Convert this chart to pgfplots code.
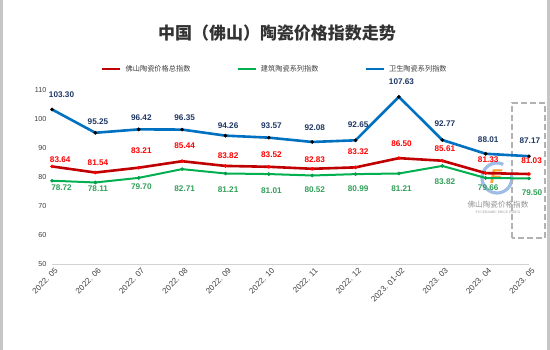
\documentclass[border=0pt]{standalone}
\usepackage{pgfplots}
\pgfplotsset{compat=1.18}
\usepackage{pgfplotstable}
\usepackage{fontspec}
\setmainfont{Liberation Sans}
\newfontfamily\cjk{Noto Sans CJK SC}
\newfontfamily\serifen{Liberation Serif}
\definecolor{cBlue}{HTML}{0070C0}
\definecolor{cRed}{HTML}{C00000}
\definecolor{cGreen}{HTML}{00B050}
\definecolor{lBlue}{HTML}{1F3864}
\definecolor{lRed}{HTML}{FF0000}
\definecolor{lGreen}{HTML}{33A05A}
\definecolor{tickc}{HTML}{404040}

\pgfplotstableread{
x y lx ly lab
0 83.64 0.19 85.86 83.64
1 81.54 1.06 84.83 81.54
2 83.21 2.06 88.97 83.21
3 85.44 3.06 90.69 85.44
4 83.82 4.06 87.24 83.82
5 83.52 5.06 87.59 83.52
6 82.83 6.06 85.86 82.83
7 83.32 7.06 88.62 83.32
8 86.50 8.06 91.38 86.50
9 85.61 9.06 89.66 85.61
10 81.33 10.06 85.86 81.33
11 81.03 11.06 85.52 81.03
}\redtab

\pgfplotstableread{
x y lx ly lab
0 78.72 0.22 76.30 78.72
1 78.11 1.06 75.80 78.11
2 79.70 2.06 76.60 79.70
3 82.71 3.06 75.90 82.71
4 81.21 4.06 75.50 81.21
5 81.01 5.06 75.20 81.01
6 80.52 6.06 75.50 80.52
7 80.99 7.06 75.80 80.99
8 81.21 8.06 75.80 81.21
9 83.82 9.06 78.50 83.82
10 79.66 10.06 76.40 79.66
11 79.50 11.07 74.50 79.50
}\greentab

\pgfplotstableread{
x y lx ly lab
0 103.30 0.22 108.28 103.30
1 95.25 1.06 98.97 95.25
2 96.42 2.06 100.34 96.42
3 96.35 3.06 100.34 96.35
4 94.26 4.06 97.59 94.26
5 93.57 5.06 97.59 93.57
6 92.08 6.06 96.90 92.08
7 92.65 7.06 97.93 92.65
8 107.63 8.06 112.76 107.63
9 92.77 9.06 98.28 92.77
10 88.01 10.06 92.76 88.01
11 87.17 11.02 92.41 87.17
}\bluetab

\begin{document}
\begin{tikzpicture}[x=1pt,y=1pt]
\path[use as bounding box] (0,0) rectangle (550,350);
\fill[white] (0,0) rectangle (550,350);
% side frame bars
\fill[gray!45] (0,0) rectangle (3,350);
\fill[gray!45] (547,0) rectangle (550,350);
% title
\node[font=\cjk\bfseries\fontsize{17}{19}\selectfont, text=black!80] at (277,317) {中国（佛山）陶瓷价格指数走势};
% watermark logo
\draw[cyan!55!blue!45, line width=3.2pt, opacity=0.85] (497,172) ++(65:15) arc (65:375:15);
\node[font=\bfseries\itshape\fontsize{20}{20}\selectfont, text=orange!90, opacity=0.85] at (496,173) {F};
\node[font=\cjk\fontsize{7.6}{8}\selectfont, text=gray!85] at (498,145) {佛山陶瓷价格指数};
\node[font=\serifen\fontsize{3.6}{4}\selectfont, text=gray!85] at (498,138) {FS CERAMIC PRICE INDEX};
% dashed highlight box
\draw[gray!60, line width=1.8pt, dash pattern=on 6pt off 3pt] (512,112) rectangle (545,247);

\begin{axis}[
  at={(52pt,86pt)}, anchor=south west,
  width=477pt, height=174pt, scale only axis,
  xmin=0, xmax=11, ymin=50, ymax=110,
  xtick={0,...,11},
  xticklabels={2022. 05,2022. 06,2022. 07,2022. 08,2022. 09,2022. 10,2022. 11,2022. 12,2023. 01-02,2023. 03,2023. 04,2023. 05},
  ytick={50,60,...,110},
  major tick length=0pt,
  axis lines*=left,
  y axis line style={draw=none},
  x axis line style={-, draw=gray!35, line width=0.8pt},
  /pgf/number format/assume math mode=true,
  yticklabel style={font=\fontsize{7.2}{8}\selectfont, text=tickc, xshift=-2pt},
  xticklabel style={font=\fontsize{8}{9}\selectfont, text=tickc, rotate=45, anchor=east, xshift=2.5pt, yshift=-7pt},
  clip=false,
  legend columns=3,
  legend style={at={(0.1027,1.121)}, anchor=west, draw=none, fill=none, inner sep=0pt,
    font=\cjk\fontsize{7.2}{8}\selectfont, text=tickc,
    /tikz/every even column/.append style={column sep=44pt},
    /tikz/every odd column/.append style={column sep=2pt}},
  legend image code/.code={\draw[#1, line width=2.5pt, mark=none] (0pt,0pt) -- (18pt,0pt);},
]
\addplot[cRed, line width=2.6pt, mark=*, mark size=1.7pt, mark options={fill=lRed, draw=lRed, line width=0.3pt}] table[x=x,y=y] {\redtab};
\addlegendentry{佛山陶瓷价格总指数}
\addplot[cGreen, line width=2pt, mark=*, mark size=1.7pt, mark options={fill=cGreen!90!black, draw=cGreen!90!black, line width=0.3pt}] table[x=x,y=y] {\greentab};
\addlegendentry{建筑陶瓷系列指数}
\addplot[cBlue, line width=2.6pt, mark=*, mark size=1.7pt, mark options={fill=black, draw=black, line width=0.3pt}] table[x=x,y=y] {\bluetab};
\addlegendentry{卫生陶瓷系列指数}

\addplot[forget plot, only marks, mark=none, nodes near coords, point meta=explicit symbolic,
  nodes near coords style={anchor=center, font=\bfseries\fontsize{8.2}{9}\selectfont, text=lRed}]
  table[x=lx,y=ly,meta=lab] {\redtab};
\addplot[forget plot, only marks, mark=none, nodes near coords, point meta=explicit symbolic,
  nodes near coords style={anchor=center, font=\bfseries\fontsize{8.2}{9}\selectfont, text=lGreen}]
  table[x=lx,y=ly,meta=lab] {\greentab};
\addplot[forget plot, only marks, mark=none, nodes near coords, point meta=explicit symbolic,
  nodes near coords style={anchor=center, font=\bfseries\fontsize{8.2}{9}\selectfont, text=lBlue}]
  table[x=lx,y=ly,meta=lab] {\bluetab};
\end{axis}
\end{tikzpicture}
\end{document}
